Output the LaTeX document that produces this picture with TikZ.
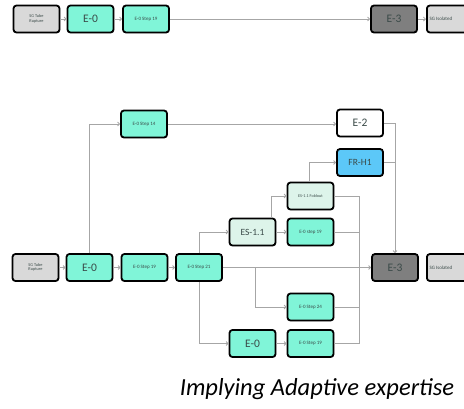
\documentclass[tikz,border=0pt]{standalone}
\usepackage{fontspec}
\setmainfont{Carlito}
\usetikzlibrary{arrows.meta,shadows}
\definecolor{mint}{HTML}{80F5D8}
\definecolor{lmint}{HTML}{DDF4EA}
\definecolor{sky}{HTML}{5CC8F8}
\definecolor{lgray}{HTML}{D9D9D9}
\definecolor{dgray}{HTML}{7F7F7F}
\definecolor{wire}{HTML}{A6A6A6}
\definecolor{txt}{HTML}{3A4A48}
\tikzset{
  box/.style={draw=black, line width=1.8pt, rounded corners=3pt, fill=#1,
    minimum width=46pt, minimum height=27pt, inner sep=1pt, align=center,
    text=txt, font=\fontsize{5}{5.5}\selectfont,
    drop shadow={opacity=0.25, shadow xshift=0.8pt, shadow yshift=-0.8pt}},
  big/.style={font=\fontsize{11.5}{12}\selectfont},
  mid/.style={font=\fontsize{9.5}{11}\selectfont},
  wirel/.style={draw=wire, line width=0.8pt},
  arr/.style={wirel, -{Straight Barb[length=2pt,width=4pt]}}
}
\begin{document}
\begin{tikzpicture}[x=1pt,y=-1pt]
\useasboundingbox (0,0) rectangle (464,408);
\clip (0,0) rectangle (464,408);
% top row
\node[box=lgray, font=\fontsize{4.3}{4.6}\selectfont] (tsg) at (36.5,19) {SG Tube\\Rupture};
\node[box=mint, big] (te0) at (90.5,19) {E-0};
\node[box=mint] (ts19) at (146,19) {E-0 Step 19};
\node[box=dgray, big] (te3) at (394,19) {E-3};
\node[box=lgray, anchor=west] (tsgi) at (426,19) {SG Isolated\hspace*{18pt}};
\draw[arr] (tsg) -- (te0);
\draw[arr] (te0) -- (ts19);
\draw[arr] (ts19) -- (te3);
\draw[arr] (te3) -- (tsgi);
% bottom diagram
\node[box=lgray, font=\fontsize{4.3}{4.6}\selectfont] (sg) at (35.5,267.5) {SG Tube\\Rupture};
\node[box=mint, big] (e0) at (89.5,267.5) {E-0};
\node[box=mint] (s19) at (144.5,267.5) {E-0 Step 19};
\node[box=mint] (s21) at (199,267.5) {E-0 Step 21};
\node[box=dgray, big] (e3) at (395,267.5) {E-3};
\node[box=lgray, anchor=west] (sgi) at (426,267.5) {SG Isolated\hspace*{18pt}};
\node[box=mint] (s14) at (144,124) {E-0 Step 14};
\node[box=white, big] (e2) at (360,123) {E-2};
\node[box=sky, mid] (frh1) at (360,162.5) {FR-H1};
\node[box=lmint, font=\fontsize{4.2}{4.6}\selectfont] (fold) at (310.5,196) {ES-1.1 Foldout};
\node[box=lmint, mid] (es11) at (252.5,232) {ES-1.1};
\node[box=mint] (s19b) at (310.5,232) {E-0 step 19};
\node[box=mint] (s24) at (310.5,307) {E-0 Step 24};
\node[box=mint, big] (e0b) at (252.5,343.5) {E-0};
\node[box=mint] (s19c) at (310.5,343.5) {E-0 Step 19};
\coordinate (j1) at (255,267.5);
\coordinate (busT) at (359,196);
\coordinate (busB) at (359,343.5);
% connectors
\draw[arr] (sg) -- (e0);
\draw[arr] (e0) -- (s19);
\draw[arr] (s19) -- (s21);
\draw[arr] (s21) -- (e3);
\draw[arr] (e0.north) |- (s14.west);
\draw[arr] (s14.east) -- (e2.west |- s14.east);
\draw[arr] (e2.east) -| (e3.north);
\draw[wirel] (frh1.east) -- (frh1.east -| e3.north);
\draw[arr] (s21.north) |- (es11.west);
\draw[arr] ([xshift=19pt]es11.north) |- (fold.west);
\draw[arr] (es11) -- (s19b);
\draw[arr] ([xshift=-1.5pt]fold.north) |- (frh1.west);
\draw[wirel] (fold.east) -- (busT) -- (busB) -- (s19c.east);
\draw[wirel] (s19b.east) -- (s19b.east -| busT);
\draw[wirel] (s24.east) -- (s24.east -| busT);
\draw[arr] (j1) |- (s24.west);
\draw[arr] (s21.south) |- (e0b.west);
\draw[arr] (e0b) -- (s19c);
% caption
\node[font=\itshape\fontsize{24.5}{28}\selectfont, text=black] (cap) at (317,389) {Implying Adaptive expertise};
\end{tikzpicture}
\end{document}
